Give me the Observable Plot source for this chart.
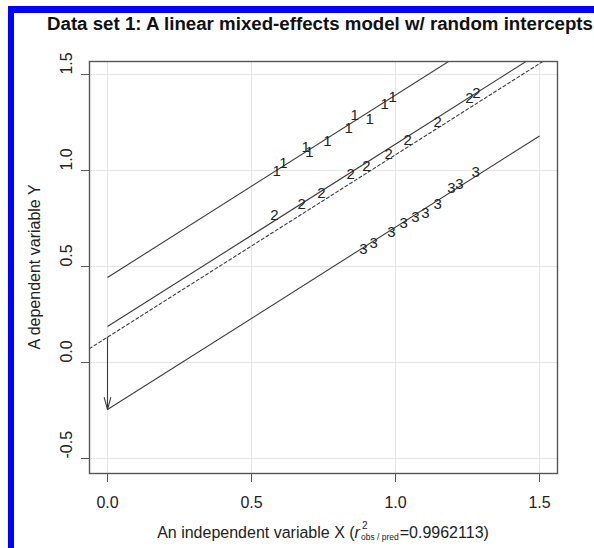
<!DOCTYPE html>
<html><head><meta charset="utf-8">
<script src="https://cdn.jsdelivr.net/npm/d3@7"></script>
<script src="https://cdn.jsdelivr.net/npm/@observablehq/plot@0.6"></script>
<style>
html,body{margin:0;padding:0;background:#fff;}
#wrap{position:relative;width:594px;height:548px;overflow:hidden;}
#blue{position:absolute;left:8px;top:6px;width:700px;height:700px;border-left:6px solid #0000ff;border-top:7px solid #0000ff;z-index:2;pointer-events:none;}
#wrap svg{position:absolute;left:0;top:0;}
</style></head><body><div id="wrap"><div id="blue"></div></div>
<script>
// ---- data ----
const groupNames = ["1", "2", "3"];
const groupIntercepts = [0.443, 0.1875, -0.245];
const popIntercept = 0.132;
const commonSlope = 0.95;
const lineXRange = [0, 1.5];

const x1vals = [0.587, 0.611, 0.688, 0.701, 0.764, 0.837, 0.858, 0.910, 0.962, 0.990];
const y1vals = [0.995, 1.036, 1.120, 1.094, 1.151, 1.219, 1.286, 1.266, 1.344, 1.380];
const x2vals = [0.580, 0.674, 0.743, 0.844, 0.899, 0.976, 1.042, 1.146, 1.257, 1.281];
const y2vals = [0.766, 0.823, 0.880, 0.979, 1.021, 1.083, 1.156, 1.250, 1.375, 1.401];
const x3vals = [0.889, 0.924, 0.986, 1.028, 1.069, 1.104, 1.146, 1.194, 1.222, 1.278];
const y3vals = [0.589, 0.620, 0.677, 0.724, 0.755, 0.776, 0.823, 0.906, 0.927, 0.990];

const xTicks = [0, 0.5, 1.0, 1.5];
const yTicks = [-0.5, 0, 0.5, 1.0, 1.5];
const xDomain = [-0.0625, 1.5625];
const yDomain = [-0.578, 1.568];

const titleText = "Data set 1: A linear mixed-effects model w/ random intercepts";
const yLabel = "A dependent variable Y";
const xLabelPre = "An independent variable X (";
const xLabelR = "r";
const xLabelSup = "2";
const xLabelSub = "obs / pred";
const xLabelPost = "=0.9962113)";

// ---- tables ----
const xs = [x1vals, x2vals, x3vals], ys = [y1vals, y2vals, y3vals];
const points = [];
groupNames.forEach((g, i) => xs[i].forEach((x, j) => points.push({g, x, y: ys[i][j]})));
const groupLines = groupNames.map((g, i) => ({
  g, xa: lineXRange[0], ya: groupIntercepts[i] + commonSlope * lineXRange[0],
  xb: lineXRange[1], yb: groupIntercepts[i] + commonSlope * lineXRange[1]
}));
const popLine = xDomain.map(x => ({x, y: popIntercept + commonSlope * x}));
const arrowData = [{xa: 0, ya: popIntercept, xb: 0, yb: groupIntercepts[2]}];
const fmt = d => d.toFixed(1);
const ink = "#3a3a3a";
const FONT = "'Liberation Sans', Arial, Helvetica, sans-serif";

const plot = Plot.plot({
  width: 594, height: 548,
  marginLeft: 89, marginRight: 37, marginTop: 61, marginBottom: 75,
  style: {fontFamily: FONT, fontSize: "16px", background: "transparent", color: "#222"},
  x: {domain: xDomain},
  y: {domain: yDomain},
  marks: [
    Plot.gridX(xTicks, {stroke: "#e4e4e4", strokeOpacity: 1}),
    Plot.gridY(yTicks, {stroke: "#e4e4e4", strokeOpacity: 1}),
    Plot.line(popLine, {x: "x", y: "y", stroke: ink, strokeWidth: 1.1, strokeDasharray: "3,2.5", clip: true}),
    Plot.link(groupLines, {x1: "xa", y1: "ya", x2: "xb", y2: "yb", stroke: ink, strokeWidth: 1.1, clip: true}),
    Plot.arrow(arrowData, {x1: "xa", y1: "ya", x2: "xb", y2: "yb", stroke: ink, strokeWidth: 1.1, headLength: 17, headAngle: 30, bend: 0}),
    Plot.text(points, {x: "x", y: "y", text: "g", fontSize: 15, fill: "#222"}),
    Plot.frame({stroke: "#555", strokeWidth: 1.4}),
    Plot.axisX(xTicks, {tickSize: 9, tickPadding: 14, tickFormat: fmt, label: null, fontSize: 16, stroke: "#555"}),
    Plot.axisY(yTicks, {tickSize: 8, tickFormat: () => "", label: null, stroke: "#555"}),
    Plot.text(yTicks, {y: d => d, text: d => fmt(d), frameAnchor: "left", dx: -23, rotate: -90, fontSize: 16, fill: "#222"})
  ]
});
document.getElementById("wrap").appendChild(plot);

const svg = d3.select(plot);
svg.append("text").attr("x", 47).attr("y", 30).attr("text-anchor", "start")
  .attr("font-family", FONT).attr("font-weight", "bold").attr("font-size", 18).attr("fill", "#111")
  .attr("textLength", 546).attr("lengthAdjust", "spacingAndGlyphs")
  .text(titleText);
svg.append("text").attr("transform", "translate(40,267) rotate(-90)").attr("text-anchor", "middle")
  .attr("font-family", FONT).attr("font-size", 16).attr("fill", "#222").text(yLabel);

// x label with r^2_{obs/pred}
const g = svg.append("g").attr("font-family", FONT).attr("fill", "#222").attr("text-anchor", "start");
const base = 538, fs = 16, small = 8.5;
const t1 = g.append("text").attr("y", base).attr("font-size", fs).text(xLabelPre);
const t2 = g.append("text").attr("y", base).attr("font-size", fs).attr("font-style", "italic").text(xLabelR);
const t3 = g.append("text").attr("y", base - 9).attr("font-size", small + 1.5).text(xLabelSup);
const t4 = g.append("text").attr("y", base + 2).attr("font-size", small).text(xLabelSub);
const t5 = g.append("text").attr("y", base).attr("font-size", fs).text(xLabelPost);
const w1 = t1.node().getComputedTextLength(), w2 = t2.node().getComputedTextLength();
const w3 = t3.node().getComputedTextLength(), w4 = t4.node().getComputedTextLength();
const w5 = t5.node().getComputedTextLength();
const total = w1 + w2 + 1 + Math.max(w3, w4) + 1 + w5;
let cx = (89 + 557) / 2 - total / 2;
t1.attr("x", cx); cx += w1;
t2.attr("x", cx); cx += w2 + 1;
t3.attr("x", cx + 1);
t4.attr("x", cx); cx += Math.max(w3, w4) + 1;
t5.attr("x", cx);
</script></body></html>
